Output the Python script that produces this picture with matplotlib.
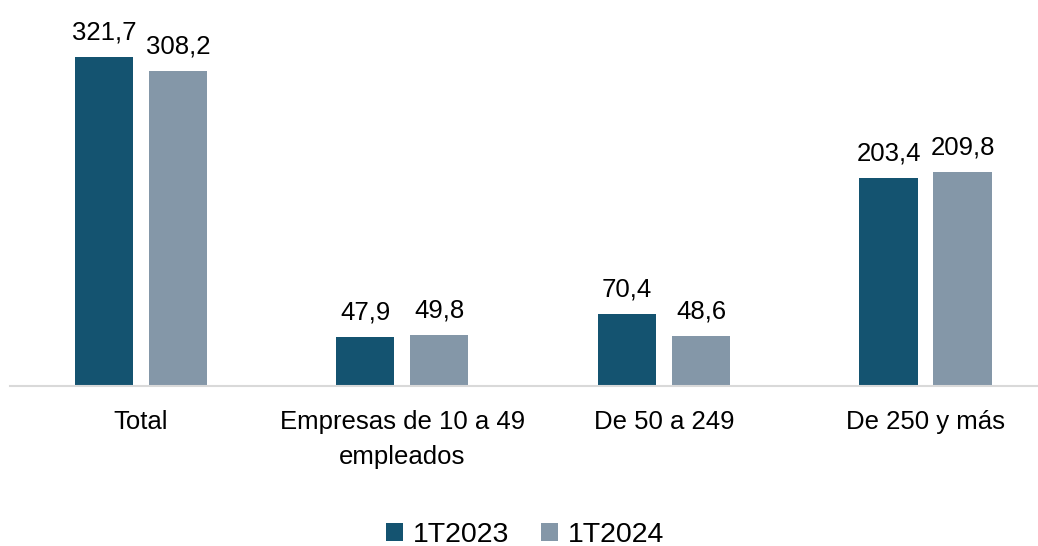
import matplotlib.pyplot as plt
import numpy as np

plt.rcParams['font.family'] = ['Liberation Sans', 'DejaVu Sans']

categories = ['Total', 'Empresas de 10 a 49\nempleados', 'De 50 a 249', 'De 250 y más']
serie_2023 = [321.7, 47.9, 70.4, 203.4]
serie_2024 = [308.2, 49.8, 48.6, 209.8]
labels = ['1T2023', '1T2024']
colors = ['#145370', '#8497a8']

fig = plt.figure(figsize=(10.38, 5.46), dpi=100)
ax = fig.add_axes([10 / 1038, 160 / 546, 1028 / 1038, 386 / 546])

x = np.arange(len(categories))
w = 0.222
off = 0.1415
b1 = ax.bar(x - off, serie_2023, w, color=colors[0], label=labels[0])
b2 = ax.bar(x + off, serie_2024, w, color=colors[1], label=labels[1])

for bars in (b1, b2):
    for b in bars:
        v = b.get_height()
        ax.annotate(f'{v:.1f}'.replace('.', ','), (b.get_x() + b.get_width() / 2, v),
                    xytext=(0, 9), textcoords='offset points', ha='center', va='bottom',
                    fontsize=18.5, color='#000000')

ax.set_xlim(-0.5, 3.43)
ax.set_ylim(0, 378)
ax.set_xticks(x)
ax.set_xticklabels(categories, fontsize=18.5, linespacing=1.6)
ax.tick_params(axis='x', length=0, pad=17)
ax.set_yticks([])
for s in ['top', 'right', 'left']:
    ax.spines[s].set_visible(False)
ax.spines['bottom'].set_color('#d9d9d9')
ax.spines['bottom'].set_linewidth(1.5)

ax.legend(loc='center', bbox_to_anchor=(525 / 1038, 11 / 546), bbox_transform=fig.transFigure,
          ncol=2, frameon=False, fontsize=20.5, handlelength=0.6, handleheight=0.6,
          handletextpad=0.35, columnspacing=1.1, borderpad=0)

fig.savefig('out.png', dpi=100)
